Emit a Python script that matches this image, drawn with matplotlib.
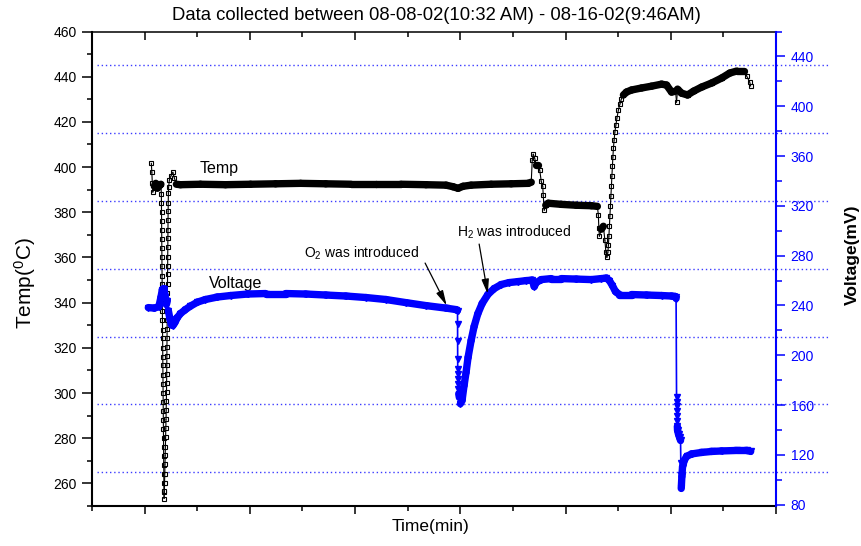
"""Temperature and cell voltage log, 08-08-02 to 08-16-02 (twin y axes)."""
import numpy as np
import matplotlib
matplotlib.use("Agg")
import matplotlib.pyplot as plt  # noqa: E402
from matplotlib.collections import LineCollection  # noqa: E402
from matplotlib.ticker import MultipleLocator  # noqa: E402

plt.rcParams["font.family"] = ["Liberation Sans", "DejaVu Sans"]
plt.rcParams["mathtext.default"] = "regular"

TITLE = "Data collected between 08-08-02(10:32 AM) - 08-16-02(9:46AM)"

# temperature log (min, degC)
temp_time = [
    128, 137, 147, 156, 185, 213, 242, 290, 309,
    318, 320, 321, 323, 324, 326, 327, 329, 330, 332, 333, 335, 336, 338, 339,
    341, 342, 344, 345, 347, 348, 350, 351, 353, 354, 356, 357, 359, 360, 362,
    363, 365, 366, 368, 370,
    375, 379, 383, 387, 391, 395, 399, 403, 407, 410, 413, 416, 418, 420, 421,
    423, 424, 426, 427, 429, 430, 432, 433, 435, 436, 438, 439, 441, 442, 444,
    445, 447, 449, 452, 456,
    470, 499, 537, 566, 604,
    680, 1061, 1537, 2013, 2490, 2966, 3443, 3919, 4395, 4871, 5348, 5729,
    5862, 5957, 6052, 6205, 6586, 6967, 7291, 7348,
    7367, 7386, 7414, 7443, 7481, 7510, 7538, 7567, 7576, 7595, 7624, 7671,
    7919, 8205, 8491, 8605,
    8624, 8633, 8643, 8681, 8719, 8748, 8767, 8786,
    8805, 8815, 8824, 8834, 8843, 8853, 8862, 8872, 8881, 8891, 8900, 8910,
    8923, 8938, 8957, 8977, 9005, 9034, 9062, 9100, 9158,
    9253, 9444, 9634, 9825, 9920, 10015, 10091, 10110, 10129, 10205, 10319,
    10434, 10586, 10777, 10967, 11120, 11253, 11386, 11443, 11500, 11519,
]
temp_c = [
    401.7, 397.7, 392.8, 388.9, 391.5, 392.8, 390.6, 392.0, 392.4,
    388.2, 384.1, 380.3, 376.0, 372.2, 368.1, 364.0, 360.2, 356.1, 352.0,
    348.3, 344.1, 340.0, 336.2, 332.1, 328.0, 324.2, 320.1, 316.0, 312.3,
    308.1, 304.0, 300.2, 296.1, 292.0, 288.2, 284.1, 280.0, 276.3, 272.1,
    268.0, 264.2, 260.1, 256.0, 253.3,
    256.5, 260.4, 264.3, 268.5, 272.4, 276.3, 280.5, 284.4, 288.3, 292.5,
    296.4, 300.3, 304.5, 308.4, 312.3, 316.5, 320.4, 324.3, 328.5, 332.4,
    336.3, 340.5, 344.4, 348.3, 352.5, 356.4, 360.3, 364.5, 368.4, 372.3,
    376.5, 380.4, 384.3, 388.5, 391.0,
    394.2, 396.0, 397.7, 395.1, 392.4,
    392.2, 392.4, 392.2, 392.4, 392.6, 392.8, 392.6, 392.4, 392.4, 392.4,
    392.2, 392.0, 391.3, 390.6, 391.5, 392.0, 392.4, 392.6, 392.8, 393.3,
    403.0, 405.7, 403.9, 400.8, 400.8, 398.6, 393.7, 391.5, 387.5, 380.9,
    383.1, 384.0, 383.5, 383.1, 382.9, 382.6,
    378.7, 372.9, 369.4, 372.5, 373.8, 367.6, 362.3, 360.0,
    362.3, 365.4, 369.4, 373.8, 378.3, 382.6, 387.1, 391.5, 395.9, 400.4,
    404.4, 408.4, 411.9, 415.5, 418.6, 421.7, 425.3, 427.9, 430.2, 431.9, 433.2,
    434.1, 435.0, 435.8, 436.7, 436.3, 433.2, 433.6, 428.7, 434.5, 432.7,
    431.9, 433.6, 435.4, 437.2, 439.4, 441.6, 442.5, 442.5, 440.3, 437.6, 435.8,
]

# cell voltage log (min, mV)
volt_time = [
    70, 185, 271, 309, 337, 366, 394, 413, 432, 451, 480, 509, 537, 575, 623,
    680, 775, 870, 1004, 1156, 1385, 1633, 1957, 2300, 2681, 3062, 3443, 3824,
    4205, 4586, 4967, 5348, 5729, 5920, 5947,
    5948, 5949, 5950, 5951, 5953, 5956, 5960, 5964, 5970, 5982, 6001,
    6033, 6071, 6109, 6147, 6205, 6262, 6332, 6414, 6523, 6643, 6776, 6929,
    7100, 7253, 7367, 7405, 7443, 7539, 7729, 7920, 8205, 8491, 8682, 8777,
    8834, 8891, 8949, 9025, 9254, 9539, 9825, 10015, 10091, 10101,
    10110, 10112, 10114, 10116, 10118, 10120, 10125, 10129, 10148, 10167, 10186,
    10191, 10195, 10199, 10211, 10224, 10256, 10300, 10396, 10586, 10777,
    10967, 11253, 11443, 11519,
]
volt_mv = [
    238.3, 237.9, 239.1, 246.4, 252.8, 253.6, 247.2, 240.7, 244.0, 235.9,
    229.5, 224.7, 223.9, 226.3, 230.3, 233.5, 236.7, 239.5, 242.7, 244.8,
    246.8, 248.0, 249.2, 249.6, 249.6, 249.2, 248.4, 247.6, 246.4, 244.8,
    242.3, 239.9, 237.9, 236.7, 235.9,
    225.3, 211.8, 197.2, 189.1, 185.1, 181.1, 177.1, 173.1, 169.1, 166.1, 161.1,
    163.7, 175.7, 186.2, 198.2, 211.8, 223.1, 233.3, 241.5, 248.8, 253.6,
    256.8, 258.4, 259.2, 260.0, 260.4, 255.2, 258.4, 260.8, 261.6, 261.6,
    261.2, 260.8, 261.6, 262.0, 260.0, 256.0, 251.2, 248.8, 248.8, 248.4,
    248.0, 247.6, 247.2, 245.6,
    166.4, 162.9, 158.9, 154.9, 150.9, 146.9, 142.9, 139.7, 136.5, 134.1, 131.6,
    113.9, 103.5, 93.1, 102.7, 110.7, 115.5, 118.8, 120.8, 122.0, 122.8,
    123.2, 123.6, 123.6, 122.8,
]

grid_levels = [265, 295, 325, 355, 385, 415, 445]

BLUE = "#0000ff"
GRID_BLUE = "#3c3cff"


def trace(ax, t, v, color, band_lw, chain_lw, is_chain):
    """Thick band where the log is dense, thin link across fast transients."""
    xy = np.column_stack([t, v]).astype(float)
    d = np.diff(ax.transData.transform(xy), axis=0)
    thin = is_chain(d[:, 0], d[:, 1])
    segs = np.stack([xy[:-1], xy[1:]], axis=1)
    lc = LineCollection(segs, colors=color, capstyle="round",
                        linewidths=np.where(thin, chain_lw, band_lw), zorder=3)
    ax.add_collection(lc)


fig = plt.figure(figsize=(8.62, 5.46), dpi=100)
ax = fig.add_axes([92 / 862, 40 / 546, 684 / 862, 474.5 / 546])
ax2 = ax.twinx()

ax.set_xlim(-1000, 12000)
ax.set_ylim(250, 460)
ax2.set_ylim(79, 460)

# spines
for s in ("left", "bottom"):
    ax.spines[s].set_linewidth(1.5)
ax.spines["top"].set_linewidth(1.1)
ax.spines["right"].set_visible(False)
for s in ("left", "top", "bottom"):
    ax2.spines[s].set_visible(False)
ax2.spines["right"].set_color(BLUE)
ax2.spines["right"].set_linewidth(1.5)

# x ticks: out at bottom, in at top, no labels
ax.xaxis.set_major_locator(MultipleLocator(2000))
ax.xaxis.set_minor_locator(MultipleLocator(1000))
ax.tick_params(axis="x", which="both", direction="out", labelbottom=False, width=1.1)
ax.tick_params(axis="x", which="major", length=6)
ax.tick_params(axis="x", which="minor", length=3.5)
ax2.xaxis.set_visible(True)
ax2.xaxis.tick_top()
ax2.tick_params(axis="x", which="both", direction="in", labeltop=False, width=1.1)
ax2.tick_params(axis="x", which="major", length=6)
ax2.tick_params(axis="x", which="minor", length=3.5)

# left (temperature) ticks
ax.yaxis.set_major_locator(MultipleLocator(20))
ax.yaxis.set_minor_locator(MultipleLocator(10))
ax.tick_params(axis="y", which="both", direction="out", width=1.1, labelsize=10, pad=4)
ax.tick_params(axis="y", which="major", length=7)
ax.tick_params(axis="y", which="minor", length=3.5)

# right (voltage) ticks
ax2.yaxis.set_major_locator(MultipleLocator(40))
ax2.yaxis.set_minor_locator(MultipleLocator(20))
ax2.tick_params(axis="y", which="both", direction="out", width=1.1, colors=BLUE,
                labelsize=10, pad=4)
ax2.tick_params(axis="y", which="major", length=6.5)
ax2.tick_params(axis="y", which="minor", length=4)

# dotted guide lines, running past the right axis as in the original
ax.hlines(grid_levels, 0.008, 1.076, transform=ax.get_yaxis_transform(),
          colors=GRID_BLUE, linestyles=(0, (1, 2)), linewidth=1.0,
          clip_on=False, zorder=1)

# temperature: hollow squares under a black band
ax.plot(temp_time, temp_c, ls="none", marker="s", ms=3, mfc="white",
        mec="black", mew=0.8, zorder=2)
trace(ax, temp_time, temp_c, "black", 5.3, 0.8,
      lambda dx, dy: (np.abs(dy) > 1.5 * np.abs(dx)) & (np.abs(dy) > 3))

# voltage: blue band + down triangles
trace(ax2, volt_time, volt_mv, BLUE, 5.3, 1.2,
      lambda dx, dy: (np.abs(dx) < 1.2) & (dy < -4))
ax2.plot(volt_time, volt_mv, ls="none", marker="v", ms=4.5, color=BLUE, zorder=4)

# labels inside the plot
ax.text(0.158, 0.712, "Temp", transform=ax.transAxes, fontsize=11.5, va="center")
ax.text(0.171, 0.468, "Voltage", transform=ax.transAxes, fontsize=11.5, va="center")

arrow = dict(arrowstyle="-|>,head_length=0.9,head_width=0.22", color="black",
             lw=0.9, shrinkA=0, shrinkB=0)
ax2.annotate("", xy=(5740, 240), xytext=(0.487, 0.512), textcoords="axes fraction",
             arrowprops=arrow)
ax2.annotate("", xy=(6523, 249), xytext=(0.566, 0.552), textcoords="axes fraction",
             arrowprops=arrow)
ax.text(0.478, 0.533, "O$_2$ was introduced", transform=ax.transAxes,
        fontsize=10, ha="right", va="center")
ax.text(0.534, 0.576, "H$_2$ was introduced", transform=ax.transAxes,
        fontsize=10, ha="left", va="center")

# titles / axis names
fig.text(436 / 862, 1 - 15 / 546, TITLE, ha="center", va="center", fontsize=13.3)
fig.text(431 / 862, 1 - 527 / 546, "Time(min)", ha="center", va="center", fontsize=12.5)
fig.text(25 / 862, 1 - 283 / 546, "Temp($^0$C)", rotation=90, ha="center",
         va="center", fontsize=15)
fig.text(852 / 862, 1 - 255 / 546, "Voltage(mV)", rotation=90, ha="center",
         va="center", fontsize=12.5, fontweight="bold")

fig.savefig("out.png", dpi=100)
